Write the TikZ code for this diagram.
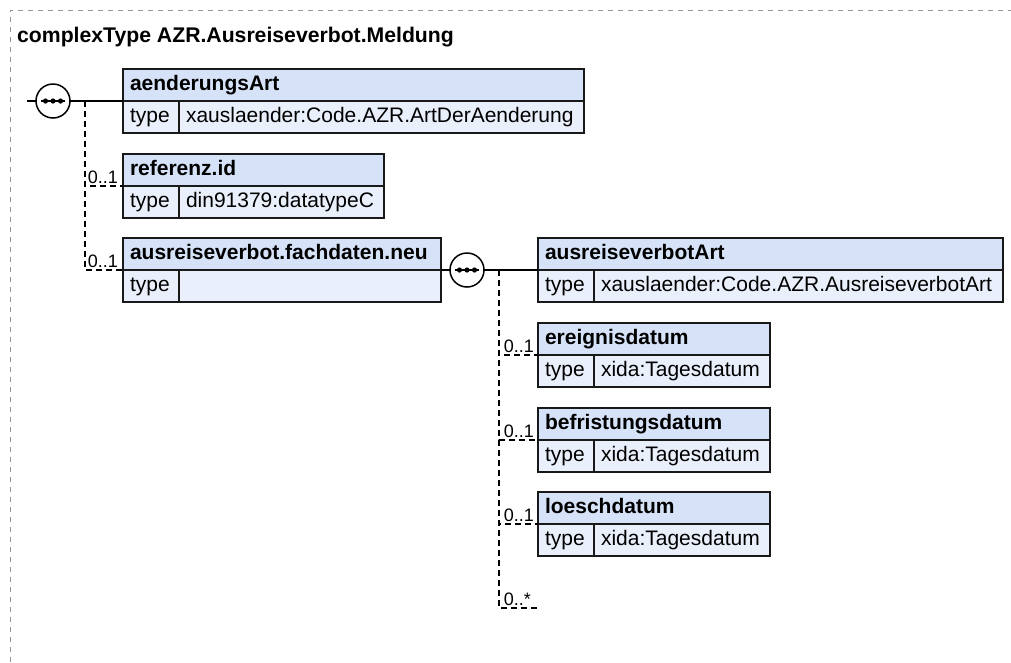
\documentclass[tikz,border=0pt]{standalone}
\usepackage{fontspec}
\setmainfont{Liberation Sans}
\definecolor{hdrfill}{RGB}{214,226,247}
\definecolor{typfill}{RGB}{234,240,251}
\definecolor{boxline}{RGB}{25,25,25}
\definecolor{framecol}{RGB}{150,150,150}
\tikzset{
  cell/.style={rectangle, draw=boxline, line width=1.8pt, anchor=north west,
    minimum height=32pt, inner xsep=7pt, inner ysep=0pt, outer sep=0pt,
    text height=15pt, text depth=4pt, align=left,
    font=\fontsize{21}{25}\selectfont},
  hdr/.style={cell, fill=hdrfill, font=\fontsize{21}{25}\selectfont\bfseries},
  typ/.style={cell, fill=typfill},
  seq/.style={circle, draw=black, fill=white, line width=1.5pt, minimum size=34pt,
    inner sep=0pt, outer sep=0pt},
  seqbar/.style={draw=black, line width=1.4pt},
  seqdot/.style={fill=black},
  conn/.style={draw=black, line width=1.5pt},
  dconn/.style={draw=black, line width=1.5pt, dash pattern=on 6pt off 4pt},
  mult/.style={font=\fontsize{18}{21}\selectfont, inner sep=0pt, anchor=base east},
}
\newcommand{\seqmark}[1]{%
  \draw[seqbar] ([xshift=-12pt]#1.center) -- ([xshift=12pt]#1.center);
  \fill[seqdot] ([xshift=-7.5pt]#1.center) circle[radius=2.6pt];
  \fill[seqdot] (#1.center) circle[radius=2.6pt];
  \fill[seqdot] ([xshift=7.5pt]#1.center) circle[radius=2.6pt];
}
\begin{document}
\begin{tikzpicture}[x=1pt,y=-1pt]
\useasboundingbox (0,0) rectangle (1011,662);
\draw[framecol, line width=1pt, dash pattern=on 5pt off 5pt] (10,662) -- (10,10) -- (1011,10);
\node[anchor=base west, inner sep=0pt, font=\fontsize{21.2}{25}\selectfont\bfseries] (title) at (17,42) {complexType AZR.Ausreiseverbot.Meldung};

% aenderungsArt
\node[hdr, text width=447pt] (a) at (123,69) {aenderungsArt};
\node[typ, text width=42pt] (at) at (a.south west) {type};
\node[typ, text width=391pt] (av) at (at.north east) {xauslaender:Code.AZR.ArtDerAenderung};
% referenz.id
\node[hdr, text width=247pt] (r) at (123,154) {referenz.id};
\node[typ, text width=42pt] (rt) at (r.south west) {type};
\node[typ, text width=191pt] (rv) at (rt.north east) {din91379:datatypeC};
% fachdaten
\node[hdr, text width=304pt] (f) at (123,238) {ausreiseverbot.fachdaten.neu};
\node[typ, text width=42pt] (ft) at (f.south west) {type};
\node[typ, text width=248pt] (fv) at (ft.north east) {};
% ausreiseverbotArt
\node[hdr, text width=451pt] (b) at (538,238) {ausreiseverbotArt};
\node[typ, text width=42pt] (bt) at (b.south west) {type};
\node[typ, text width=395pt] (bv) at (bt.north east) {xauslaender:Code.AZR.AusreiseverbotArt};
% ereignisdatum
\node[hdr, text width=218pt] (e) at (538,323) {ereignisdatum};
\node[typ, text width=42pt] (et) at (e.south west) {type};
\node[typ, text width=162pt] (ev) at (et.north east) {xida:Tagesdatum};
% befristungsdatum
\node[hdr, text width=218pt] (g) at (538,408) {befristungsdatum};
\node[typ, text width=42pt] (gt) at (g.south west) {type};
\node[typ, text width=162pt] (gv) at (gt.north east) {xida:Tagesdatum};
% loeschdatum
\node[hdr, text width=218pt] (l) at (538,492) {loeschdatum};
\node[typ, text width=42pt] (lt) at (l.south west) {type};
\node[typ, text width=162pt] (lv) at (lt.north east) {xida:Tagesdatum};

% sequence 1
\coordinate (in) at (27,101);
\coordinate (j1) at (85,101);
\draw[dconn] (j1) |- (r.south west);
\draw[dconn] (j1) |- (f.south west);
\node[seq] (s1) at (53,101) {};
\seqmark{s1}
\draw[conn] (in) -- (s1);
\draw[conn] (s1) -- (a.south west);
\node[mult] (m1) at ([xshift=-5pt,yshift=3pt]r.south west) {0..1};
\node[mult] (m2) at ([xshift=-5pt,yshift=3pt]f.south west) {0..1};

% sequence 2
\node[seq] (s2) at (467,270) {};
\seqmark{s2}
\draw[conn] (f.south east) -- (s2);
\draw[conn] (s2) -- (b.south west);
\coordinate (j2) at (499,270);
\coordinate (anyend) at (537,608);
\draw[dconn] (j2) |- (e.south west);
\draw[dconn] (j2) |- (g.south west);
\draw[dconn] (j2) |- (l.south west);
\draw[dconn] (j2) |- (anyend);
\node[mult] (m3) at ([xshift=-4pt,yshift=3pt]e.south west) {0..1};
\node[mult] (m4) at ([xshift=-4pt,yshift=3pt]g.south west) {0..1};
\node[mult] (m5) at ([xshift=-4pt,yshift=3pt]l.south west) {0..1};
\node[mult] (m6) at ([xshift=-6pt,yshift=3pt]anyend) {0..*};
\end{tikzpicture}
\end{document}
